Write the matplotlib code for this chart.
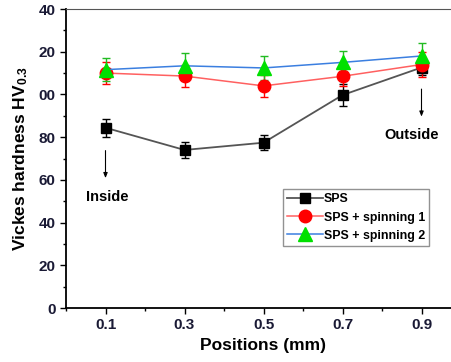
import numpy as np
import matplotlib
matplotlib.use("agg")
import matplotlib.pyplot as plt
from matplotlib.ticker import MultipleLocator

plt.rcParams["font.family"] = ["Liberation Sans", "DejaVu Sans"]
plt.rcParams["font.weight"] = "bold"
plt.rcParams["mathtext.fontset"] = "custom"
plt.rcParams["mathtext.bf"] = "Liberation Sans:bold"
plt.rcParams["mathtext.rm"] = "Liberation Sans:bold"
plt.rcParams["mathtext.default"] = "bf"

positions = [0.1, 0.3, 0.5, 0.7, 0.9]
sps = [84.4, 74.0, 77.4, 99.7, 112.6]
sps_err = [4.2, 3.7, 3.5, 5.0, 3.5]
spin1 = [110.0, 108.6, 104.0, 108.5, 114.0]
spin1_err = [5.2, 5.3, 5.0, 4.5, 6.0]
spin2 = [111.6, 113.4, 112.4, 115.0, 118.0]
spin2_err = [5.5, 6.0, 5.6, 5.5, 6.0]

ytick_vals = [0, 20, 40, 60, 80, 100, 120, 140]
ytick_text = ["0", "20", "40", "60", "80", "00", "20", "40"]
xtick_text = ["0.1", "0.3", "0.5", "0.7", "0.9"]

fig = plt.figure(figsize=(4.51, 3.62), dpi=100)
ax = fig.add_axes([66/451, 54/362, 395/451, 299/362])

c1 = ax.errorbar(positions, sps, yerr=sps_err, color="#555555", ecolor="black",
    elinewidth=1, capsize=3, marker="s", ms=7.5, mfc="black", mec="black",
    lw=1.3, label="SPS")
c2 = ax.errorbar(positions, spin1, yerr=spin1_err, color="#ff6060", ecolor="red",
    elinewidth=1, capsize=3, marker="o", ms=9, mfc="red", mec="red",
    lw=1.1, label="SPS + spinning 1")
c3 = ax.errorbar(positions, spin2, yerr=spin2_err, color="#3b7fe0", ecolor="#22bb22",
    elinewidth=1, capsize=3, marker="^", ms=10, mfc="#00e000", mec="#00e000",
    lw=1.1, label="SPS + spinning 2")

# inside / outside markers
ax.annotate("", xy=(0.1, 59.5), xytext=(0.1, 75),
    arrowprops=dict(arrowstyle="-|>,head_width=0.12,head_length=0.3", color="black", lw=0.8))
ax.text(0.105, 52, "Inside", ha="center", va="center", fontsize=10.5, fontweight="bold")
ax.annotate("", xy=(0.9, 88.3), xytext=(0.9, 103.8),
    arrowprops=dict(arrowstyle="-|>,head_width=0.12,head_length=0.3", color="black", lw=0.8))
ax.text(0.875, 81, "Outside", ha="center", va="center", fontsize=10.5, fontweight="bold")

ax.set_xlim(0.0, 1.0)
ax.set_ylim(0, 140)
ax.set_xticks(positions)
ax.set_xticklabels(xtick_text)
ax.xaxis.set_minor_locator(MultipleLocator(0.1))
ax.set_yticks(ytick_vals)
ax.set_yticklabels(ytick_text)
ax.yaxis.set_minor_locator(MultipleLocator(10))
ax.tick_params(which="major", direction="out", length=4, width=1,
    labelsize=11, labelcolor="#1a1a35")
ax.tick_params(which="minor", direction="out", length=2.5, width=1)
for s in ["left", "bottom"]:
    ax.spines[s].set_linewidth(1.3)
ax.spines["top"].set_color("#555555")

ax.set_xlabel("Positions (mm)", fontsize=12.5, fontweight="bold", labelpad=4)
ax.set_ylabel("Vickes hardness HV$_{0.3}$", fontsize=12.5, fontweight="bold", labelpad=6)

handles = [c1[0], c2[0], c3[0]]
leg = ax.legend(handles=handles, labels=[h.get_label() for h in [c1, c2, c3]],
    loc="upper left", bbox_to_anchor=(0.549, 0.398), fontsize=8.9,
    frameon=True, fancybox=False, edgecolor="#777777", borderpad=0.35,
    labelspacing=0.5, handlelength=2.9, handletextpad=0.05, borderaxespad=0)
leg.get_frame().set_linewidth(1)
for t in leg.get_texts():
    t.set_fontweight("bold")

plt.savefig("out.png", dpi=100)
